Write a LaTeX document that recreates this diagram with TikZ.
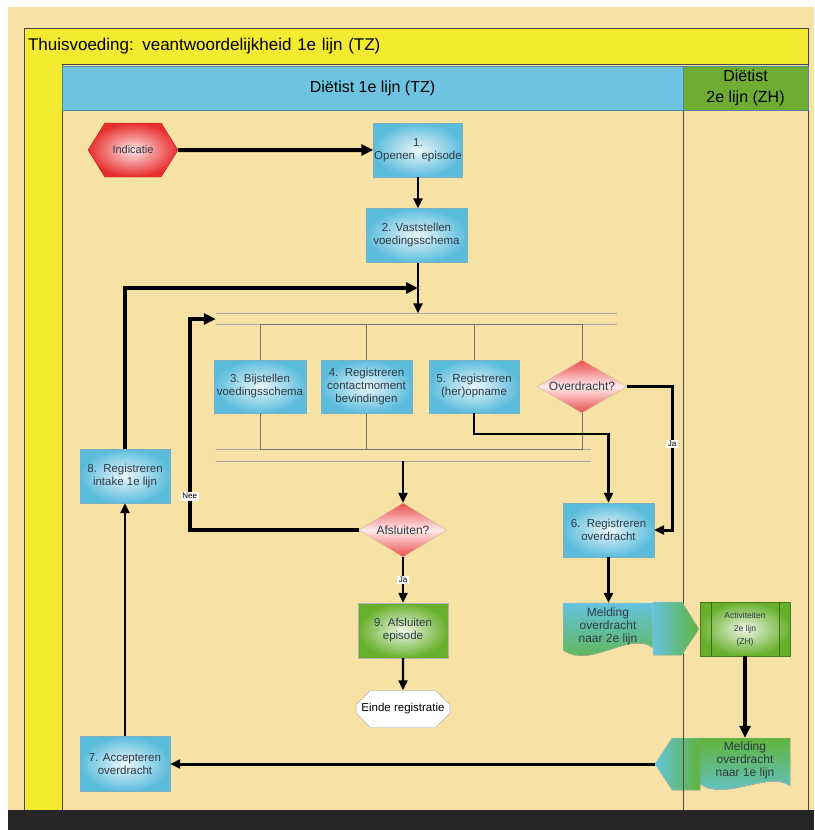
\documentclass[tikz,border=0pt]{standalone}
\usepackage{fontspec}
\setmainfont{Liberation Sans}
\usepackage{tikz}
\usetikzlibrary{positioning,arrows.meta,shapes.geometric,shapes.symbols,shapes.misc,calc}
\definecolor{lanetan}{RGB}{247,226,165}
\definecolor{laneyellow}{RGB}{244,234,48}
\definecolor{headblue}{RGB}{110,196,224}
\definecolor{headgreen}{RGB}{110,172,50}
\definecolor{taskblue}{RGB}{92,188,220}
\definecolor{taskedge}{RGB}{120,175,195}
\definecolor{taskgreen}{RGB}{104,176,44}
\definecolor{eventred}{RGB}{232,45,45}
\definecolor{choicered}{RGB}{234,78,78}
\definecolor{taskink}{RGB}{45,60,70}
\definecolor{frameline}{RGB}{70,70,70}
\definecolor{msgblue}{RGB}{100,195,222}
\definecolor{msggreen}{RGB}{96,180,58}
\tikzset{
  pool/.style     = {rectangle, draw=frameline, fill=laneyellow, inner sep=4pt,
                     align=left, font=\fontsize{17}{19}\selectfont},
  lanehead/.style = {rectangle, minimum height=44pt, inner sep=0pt, align=center,
                     draw=headblue!70!black, thin, font=\fontsize{16}{21}\selectfont},
  task/.style     = {rectangle, minimum width=90pt, minimum height=54pt, inner sep=0pt,
                     align=center, draw=taskedge, inner color=taskblue!12,
                     outer color=taskblue, text=taskink,
                     font=\fontsize{11.5}{13}\selectfont},
  donetask/.style = {task, draw=gray!60, inner color=taskgreen!12, outer color=taskgreen},
  choice/.style   = {diamond, shape aspect=1.7, minimum width=90pt, minimum height=54pt,
                     inner sep=0pt, draw=brown!60, top color=choicered,
                     bottom color=choicered, middle color=red!8, text=taskink,
                     font=\fontsize{12}{13}\selectfont},
  startev/.style  = {signal, signal to=east and west, signal pointer angle=116,
                     minimum width=90pt, minimum height=54pt, inner sep=0pt,
                     draw=eventred!80!black, inner color=eventred!12, outer color=eventred,
                     text=taskink, font=\fontsize{11}{13}\selectfont},
  endev/.style    = {chamfered rectangle, chamfered rectangle xsep=10pt,
                     chamfered rectangle ysep=9pt, minimum width=89pt, minimum height=37pt,
                     inner sep=0pt, draw=gray!70, fill=white,
                     font=\fontsize{11.5}{13}\selectfont},
  msgtext/.style  = {rectangle, minimum width=90pt, inner sep=0pt, align=center,
                     text=taskink, font=\fontsize{12}{13}\selectfont},
  msgarrow/.style = {draw=gray!40, left color=msgblue, right color=msggreen},
  fork/.style     = {rectangle, minimum height=11pt, inner sep=0pt},
  barline/.style  = {draw=black!35, line width=1pt},
  branch/.style   = {draw=black!55, line width=0.8pt},
  flow/.style     = {-{Triangle[length=10pt,width=9pt]}, line width=2.5pt},
  flowbold/.style = {-{Triangle[length=12pt,width=11pt]}, line width=4pt},
  flowlbl/.style  = {fill=white, inner sep=1.5pt, font=\fontsize{8}{9}\selectfont}
}

\begin{document}
\begin{tikzpicture}[x=1pt, y=-1pt]
  \useasboundingbox (0,0) rectangle (814,830);
  % Canvas
  \fill[white] (0,0) rectangle (814,830);
  \fill[lanetan] (8,7) rectangle (814,810);
  \fill[black!85] (8,810) rectangle (814,830);
  % Pool and lanes
  \node[pool, text width=776pt, minimum height=36pt] (pool) at (416,46)
    {Thuisvoeding: veantwoordelijkheid 1e lijn (TZ)};
  \fill[laneyellow] (24,64) rectangle (62,810);
  \draw[frameline] (24,64) -- (24,810) (62,64) -- (62,810)
                   (683,110) -- (683,810) (808,64) -- (808,810);
  \node[lanehead, fill=headblue,  minimum width=621pt] (laneTZ) at (372.5,88) {Diëtist 1e lijn (TZ)};
  \node[lanehead, fill=headgreen, minimum width=125pt] (laneZH) at (745.5,88) {Diëtist\\2e lijn (ZH)};
  % Start
  \node[startev] (ind) at (133,150) {Indicatie};
  \node[task, minimum width=89pt]  (n1) at (418,150) {1.\\Openen\ \ episode};
  \node[task, minimum width=101pt] (n2) at (416.5,235.5) {2. Vaststellen\\voedingsschema};
  \coordinate (merge) at (418,288);
  % Parallel block
  \node[fork, minimum width=401pt] (forkTop) at (416.5,319) {};
  \node[fork, minimum width=375pt] (forkBot) at (403.5,455.5) {};
  \node[task, minimum width=92pt, minimum height=53pt] (n3) at (260,386.5) {3. Bijstellen\\voedingsschema};
  \node[task, minimum width=91pt, minimum height=53pt] (n4) at (366.5,386.5) {4.\ \ Registreren\\contactmoment\\bevindingen};
  \node[task, minimum height=53pt] (n5) at (474,386.5) {5.\ \ Registreren\\(her)opname};
  \node[choice, minimum height=53pt] (ov) at (582,386.5) {Overdracht?};
  % Closing
  \node[choice, minimum width=88pt] (af) at (403,530) {Afsluiten?};
  \node[donetask, minimum height=55pt] (n9) at (403,630.5) {9. Afsluiten\\episode};
  \node[endev] (einde) at (403,709) {Einde registratie};
  % Hand-over
  \node[task, minimum width=91pt] (n6) at (608.5,530) {6.\ \ Registreren\\overdracht};
  \fill[top color=msgblue, bottom color=msggreen, draw=gray!50]
    (563,603) -- (653,603) -- (653,648) .. controls (630,630) and (590,670) .. (563,650) -- cycle;
  \node[msgtext, minimum height=46pt] (mel2) at (608,626) {Melding\\overdracht\\naar 2e lijn};
  \fill[msgarrow] (653,602) -- (682,602) -- (699,629) -- (682,655) -- (653,655) -- cycle;
  \node[donetask, draw=taskgreen!70!black, font=\fontsize{8.5}{13}\selectfont] (act) at (745,629)
    {Activiteiten\\2e lijn\\(ZH)};
  \draw[taskgreen!60!black] ($(act.north west)+(11,0)$) -- ($(act.south west)+(11,0)$)
                            ($(act.north east)+(-11,0)$) -- ($(act.south east)+(-11,0)$);
  \fill[top color=msggreen, bottom color=msgblue, draw=gray!50]
    (700,738) -- (790,738) -- (790,786) .. controls (770,770) and (725,802) .. (700,784) -- cycle;
  \node[msgtext, minimum height=44pt] (mel1) at (745,760) {Melding\\overdracht\\naar 1e lijn};
  \fill[msgarrow] (700,738) -- (672,738) -- (655,764) -- (672,790) -- (700,790) -- cycle;
  \draw[frameline] (683,738) -- (683,790);
  \coordinate (con1) at (655,764);
  \node[task, minimum height=55pt] (n7) at (125,764) {7. Accepteren\\overdracht};
  \node[task] (n8) at (125,476) {8.\ \ Registreren\\intake 1e lijn};
  % Bars
  \draw[barline] (forkTop.north west) -- (forkTop.north east)
                 (forkTop.south west) -- (forkTop.south east);
  \draw[barline] (forkBot.north west) -- (forkBot.north east)
                 (forkBot.south west) -- (forkBot.south east);
  \draw[branch] (n3.north) -- (n3.north |- forkTop.south) -- (ov.north |- forkTop.south) -- (ov.north);
  \draw[branch] (n4.north) -- (n4.north |- forkTop.south);
  \draw[branch] (n5.north) -- (n5.north |- forkTop.south);
  \draw[branch] (n3.south) -- (n3.south |- forkBot.north) -- (ov.south |- forkBot.north) -- (ov.south);
  \draw[branch] (n4.south) -- (n4.south |- forkBot.north);
  % Flows
  \draw[flowbold] (ind) -- (n1);
  \draw[flow] (n1) -- (n1 |- n2.north);
  \draw[flow] (n1 |- n2.south) -- (n1 |- forkTop.north);
  \draw[flowbold, line width=3.5pt] (n8) |- (merge);
  \draw[flowbold] (af.west) -| node[flowlbl, pos=0.58]{Nee} ($(forkTop.west)+(-26,0)$) -- (forkTop.west);
  \draw[flow] (n5.south) -- ++(0,21) -| (n6.north);
  \draw[flow, line width=3pt] (ov.east) -- ++(45,0) |- node[flowlbl, pos=0.2]{Ja} (n6.east);
  \draw[flow] (af.north |- forkBot.south) -- (af.north);
  \draw[flow, line width=2.2pt] (af) -- node[flowlbl]{Ja} (n9);
  \draw[flow, line width=2.2pt] (n9) -- (einde);
  \draw[flow] (n6) -- (n6 |- mel2.north);
  \draw[flowbold, line width=4.5pt] (act) -- (mel1);
  \draw[flow, line width=3pt] (con1) -- (n7.east);
  \draw[flow] (n7) -- (n8);
\end{tikzpicture}
\end{document}
